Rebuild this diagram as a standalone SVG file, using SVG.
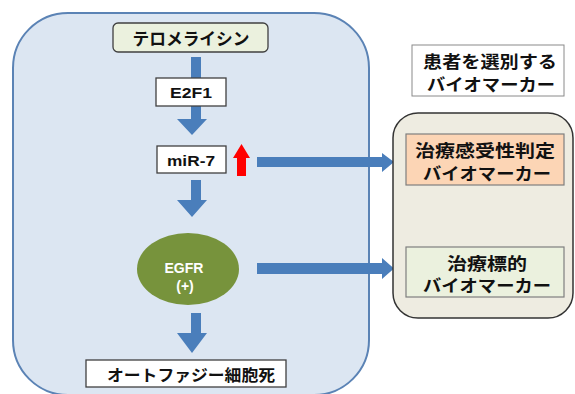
<svg xmlns="http://www.w3.org/2000/svg" width="575" height="394" viewBox="0 0 575 394">
<style>
.t{font-family:"Liberation Sans","Noto Sans CJK JP",sans-serif;font-weight:bold;fill:#111;text-anchor:middle}
.w{fill:#fff}
.box{fill:#fff;stroke:#404040;stroke-width:1.3}
.arr{fill:#4a7ebb}
</style>
<rect width="575" height="394" fill="#fff"/>
<g id="cell">
<rect x="13" y="13" width="356" height="382" rx="55" ry="55" fill="#dce6f2" stroke="#5b83b5" stroke-width="2"/>
</g>
<g id="connectors">
<polygon class="arr" points="191,57 201,57 201,119 207,119 192,135 177,119 191,119"/>
<polygon class="arr" points="191,180 201,180 201,200 207,200 192,217 177,200 191,200"/>
<polygon class="arr" points="191,313 201,313 201,333 207,333 192,353 177,333 191,333"/>
<polygon class="arr" points="257,157 382,157 382,153 394,162 382,172 382,167 257,167"/>
<polygon class="arr" points="257,263 382,263 382,258 394,268.5 382,279 382,274 257,274"/>
<polygon fill="#ff0000" points="237,176 246,176 246,158 250,158 241.5,144 233,158 237,158"/>
</g>
<g id="telomelysin">
<rect x="113" y="23" width="155" height="29" rx="5" fill="#ebf1de" stroke="#404040" stroke-width="1.3"/>
<text class="t" x="191" y="45" font-size="17" textLength="117" lengthAdjust="spacingAndGlyphs">テロメライシン</text>
</g>
<g id="e2f1">
<rect class="box" x="156" y="78" width="70" height="28"/>
<text class="t" x="191" y="98" font-size="14" textLength="42" lengthAdjust="spacingAndGlyphs">E2F1</text>
</g>
<g id="mir7">
<rect class="box" x="157" y="146" width="69" height="27"/>
<text class="t" x="191" y="166" font-size="14" textLength="48" lengthAdjust="spacingAndGlyphs">miR-7</text>
</g>
<g id="egfr">
<ellipse cx="188" cy="269" rx="51" ry="36" fill="#77933c"/>
<text class="t w" x="184" y="273" font-size="14.5" textLength="39" lengthAdjust="spacingAndGlyphs">EGFR</text>
<text class="t w" x="185" y="291" font-size="14">(+)</text>
</g>
<g id="autophagy">
<rect class="box" x="86" y="360" width="200" height="27"/>
<text class="t" x="191" y="381" font-size="16" textLength="168" lengthAdjust="spacingAndGlyphs">オートファジー細胞死</text>
</g>
<g id="selection-label">
<rect x="412" y="45" width="152" height="51" fill="#fff" stroke="#8a8a8a" stroke-width="1"/>
<text class="t" x="490" y="68" font-size="17" textLength="134" lengthAdjust="spacingAndGlyphs">患者を選別する</text>
<text class="t" x="491" y="91" font-size="17" textLength="128" lengthAdjust="spacingAndGlyphs">バイオマーカー</text>
</g>
<g id="biomarker-panel">
<rect x="393" y="113" width="180" height="205" rx="25" ry="25" fill="#eeece1" stroke="#333" stroke-width="1.5"/>
</g>
<g id="sensitivity">
<rect x="406" y="134" width="158" height="51" fill="#fcd5b5" stroke="#7f7f7f" stroke-width="1.2"/>
<text class="t" x="485" y="157" font-size="17" textLength="140" lengthAdjust="spacingAndGlyphs">治療感受性判定</text>
<text class="t" x="487" y="180" font-size="17" textLength="128" lengthAdjust="spacingAndGlyphs">バイオマーカー</text>
</g>
<g id="target">
<rect x="406" y="247" width="158" height="50" fill="#ebf1de" stroke="#7f7f7f" stroke-width="1.2"/>
<text class="t" x="487" y="270" font-size="17" textLength="80" lengthAdjust="spacingAndGlyphs">治療標的</text>
<text class="t" x="487" y="292" font-size="17" textLength="128" lengthAdjust="spacingAndGlyphs">バイオマーカー</text>
</g>
</svg>
